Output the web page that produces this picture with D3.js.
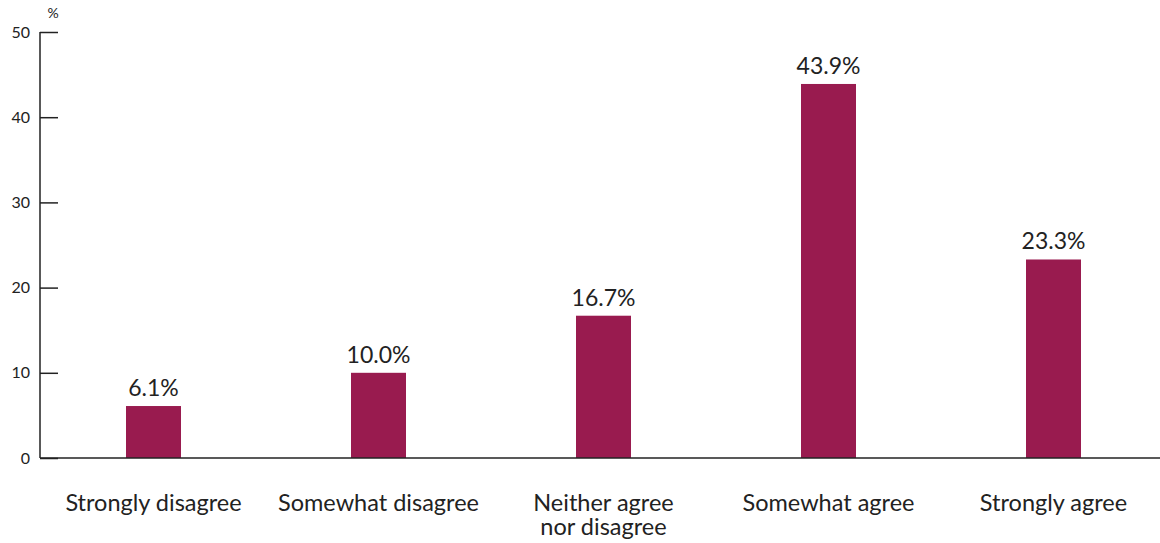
<!DOCTYPE html>
<html>
<head>
<meta charset="utf-8">
<script src="https://cdn.jsdelivr.net/npm/d3@7"></script>
<style>
  body { margin: 0; background: #fff; }
  svg { display: block; font-family: Lato, "Open Sans", sans-serif; }
</style>
</head>
<body>
<script>
const categories = [
  ['Strongly disagree'],
  ['Somewhat disagree'],
  ['Neither agree', 'nor disagree'],
  ['Somewhat agree'],
  ['Strongly agree']
];
const values = [6.1, 10.0, 16.7, 43.9, 23.3];
const yTicks = [0, 10, 20, 30, 40, 50];

const svg = d3.select(document.body).append('svg')
  .attr('width', 1160).attr('height', 543);

const x = d3.scaleBand()
  .domain(d3.range(values.length))
  .range([41, 1166])
  .paddingInner(170 / 225)
  .paddingOuter(85 / 225);

const y = d3.scaleLinear().domain([0, 50]).range([458, 32]);

// y axis
const yAxis = svg.append('g')
  .attr('transform', 'translate(40,0)')
  .call(d3.axisRight(y).tickValues(yTicks).tickSize(18).tickFormat(''));
yAxis.select('.domain').remove();
yAxis.selectAll('.tick line').attr('stroke', '#222').attr('stroke-width', 1.5);

svg.append('line')
  .attr('x1', 40).attr('x2', 40)
  .attr('y1', y(50)).attr('y2', y(0))
  .attr('stroke', '#222').attr('stroke-width', 1.5);

svg.selectAll('.ylab').data(yTicks).enter().append('text')
  .attr('x', 30).attr('y', d => y(d) + 5.5)
  .attr('text-anchor', 'end')
  .attr('font-size', 16).attr('fill', '#222')
  .text(d => d);

svg.append('text')
  .attr('x', 53).attr('y', 18)
  .attr('text-anchor', 'middle')
  .attr('font-size', 14).attr('fill', '#222')
  .text('%');

// bars
svg.selectAll('.bar').data(values).enter().append('rect')
  .attr('x', (d, i) => x(i))
  .attr('width', x.bandwidth())
  .attr('y', d => y(d))
  .attr('height', d => y(0) - y(d))
  .attr('fill', '#991b4f');

// baseline
svg.append('line')
  .attr('x1', 40).attr('x2', 1160)
  .attr('y1', y(0)).attr('y2', y(0))
  .attr('stroke', '#222').attr('stroke-width', 1.5);

// value labels
svg.selectAll('.vlab').data(values).enter().append('text')
  .attr('x', (d, i) => x(i) + x.bandwidth() / 2)
  .attr('y', d => y(d) - 10)
  .attr('text-anchor', 'middle')
  .attr('font-size', 23).attr('fill', '#222')
  .text(d => d.toFixed(1) + '%');

// category labels
const cat = svg.selectAll('.clab').data(categories).enter().append('text')
  .attr('x', (d, i) => x(i) + x.bandwidth() / 2)
  .attr('y', 511)
  .attr('text-anchor', 'middle')
  .attr('font-size', 23.5).attr('fill', '#222');
cat.selectAll('tspan').data(d => d).enter().append('tspan')
  .attr('x', function () { return d3.select(this.parentNode).attr('x'); })
  .attr('dy', (d, i) => i === 0 ? 0 : 24)
  .text(d => d);
</script>
</body>
</html>
